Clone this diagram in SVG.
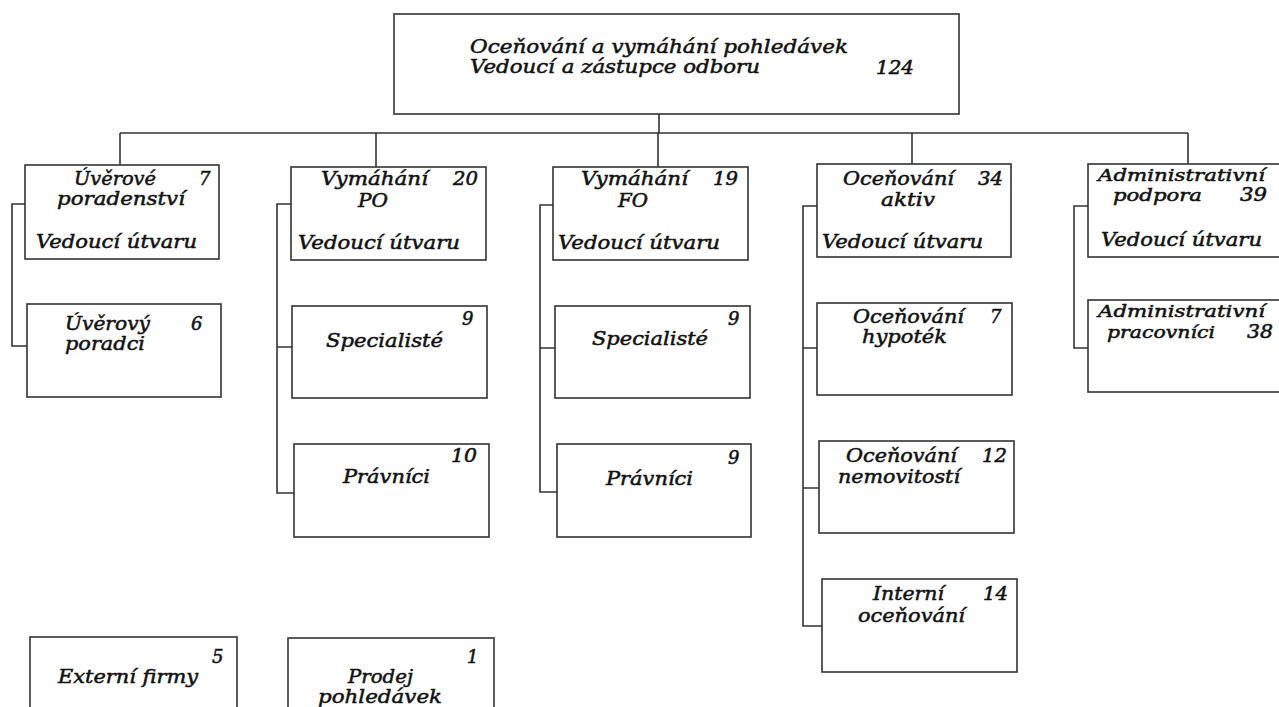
<svg xmlns="http://www.w3.org/2000/svg" width="1279" height="707" viewBox="0 0 1279 707">
<style>
.b{fill:#fff;stroke:#333;stroke-width:1.6}
.c{fill:none;stroke:#333;stroke-width:1.6}
text{font-family:"DejaVu Serif","Liberation Serif",serif;font-style:italic;font-size:18px;fill:#111;stroke:#111;stroke-width:0.5}
.s{font-size:17px}
</style>
<rect width="1279" height="707" fill="#fff"/>
<g id="connectors">
<path class="c" d="M659 114V133M120 133H1188M120 133V165M376 133V167M658 133V167M912 133V164M1188 133V164"/>
<path class="c" d="M25 204H12V346H27"/>
<path class="c" d="M291 204H277V493H294M277 347H292"/>
<path class="c" d="M553 205H540V492H557M540 348H555"/>
<path class="c" d="M817 206H803V626H822M803 348H817M803 488H819"/>
<path class="c" d="M1088 206H1074V348H1088"/>
</g>
<g id="n-top">
<rect class="b" x="394" y="14" width="565" height="100"/>
<text x="470" y="53" textLength="378" lengthAdjust="spacingAndGlyphs">Oceňování a vymáhání pohledávek</text>
<text x="470" y="73" textLength="290" lengthAdjust="spacingAndGlyphs">Vedoucí a zástupce odboru</text>
<text x="876" y="74" textLength="38" lengthAdjust="spacingAndGlyphs">124</text>
</g>
<g id="n-uv">
<rect class="b" x="25" y="165" width="194" height="94"/>
<text x="74" y="185" textLength="82" lengthAdjust="spacingAndGlyphs">Úvěrové</text>
<text x="199" y="185">7</text>
<text x="57" y="205" textLength="128" lengthAdjust="spacingAndGlyphs">poradenství</text>
<text x="36" y="248" textLength="161" lengthAdjust="spacingAndGlyphs">Vedoucí útvaru</text>
</g>
<g id="n-uv-por">
<rect class="b" x="27" y="304" width="194" height="93"/>
<text x="65" y="330" textLength="85" lengthAdjust="spacingAndGlyphs">Úvěrový</text>
<text x="191" y="330">6</text>
<text x="65" y="350" textLength="80" lengthAdjust="spacingAndGlyphs">poradci</text>
</g>
<g id="n-po">
<rect class="b" x="291" y="167" width="195" height="93"/>
<text x="321" y="185" textLength="107" lengthAdjust="spacingAndGlyphs">Vymáhání</text>
<text x="453" y="185" textLength="25" lengthAdjust="spacingAndGlyphs">20</text>
<text x="358" y="207" textLength="30" lengthAdjust="spacingAndGlyphs">PO</text>
<text x="298" y="249" textLength="162" lengthAdjust="spacingAndGlyphs">Vedoucí útvaru</text>
</g>
<g id="n-po-spec">
<rect class="b" x="292" y="306" width="195" height="92"/>
<text x="462" y="325">9</text>
<text x="326" y="347" textLength="117" lengthAdjust="spacingAndGlyphs">Specialisté</text>
</g>
<g id="n-po-prav">
<rect class="b" x="294" y="444" width="195" height="93"/>
<text x="451" y="462" textLength="26" lengthAdjust="spacingAndGlyphs">10</text>
<text x="343" y="483" textLength="87" lengthAdjust="spacingAndGlyphs">Právníci</text>
</g>
<g id="n-fo">
<rect class="b" x="553" y="167" width="195" height="93"/>
<text x="581" y="185" textLength="107" lengthAdjust="spacingAndGlyphs">Vymáhání</text>
<text x="713" y="185" textLength="25" lengthAdjust="spacingAndGlyphs">19</text>
<text x="618" y="207" textLength="30" lengthAdjust="spacingAndGlyphs">FO</text>
<text x="558" y="249" textLength="162" lengthAdjust="spacingAndGlyphs">Vedoucí útvaru</text>
</g>
<g id="n-fo-spec">
<rect class="b" x="555" y="306" width="195" height="92"/>
<text x="728" y="325">9</text>
<text x="592" y="345" textLength="116" lengthAdjust="spacingAndGlyphs">Specialisté</text>
</g>
<g id="n-fo-prav">
<rect class="b" x="557" y="444" width="194" height="93"/>
<text x="728" y="464">9</text>
<text x="606" y="485" textLength="87" lengthAdjust="spacingAndGlyphs">Právníci</text>
</g>
<g id="n-oc">
<rect class="b" x="817" y="164" width="194" height="93"/>
<text x="843" y="185" textLength="111" lengthAdjust="spacingAndGlyphs">Oceňování</text>
<text x="978" y="185" textLength="25" lengthAdjust="spacingAndGlyphs">34</text>
<text x="881" y="206" textLength="54" lengthAdjust="spacingAndGlyphs">aktiv</text>
<text x="822" y="248" textLength="161" lengthAdjust="spacingAndGlyphs">Vedoucí útvaru</text>
</g>
<g id="n-oc-hyp">
<rect class="b" x="817" y="303" width="195" height="92"/>
<text x="853" y="323" textLength="111" lengthAdjust="spacingAndGlyphs">Oceňování</text>
<text x="990" y="323">7</text>
<text x="862" y="343" textLength="85" lengthAdjust="spacingAndGlyphs">hypoték</text>
</g>
<g id="n-oc-nem">
<rect class="b" x="819" y="441" width="195" height="92"/>
<text x="846" y="462" textLength="111" lengthAdjust="spacingAndGlyphs">Oceňování</text>
<text x="982" y="462" textLength="25" lengthAdjust="spacingAndGlyphs">12</text>
<text x="838" y="483" textLength="122" lengthAdjust="spacingAndGlyphs">nemovitostí</text>
</g>
<g id="n-oc-int">
<rect class="b" x="822" y="579" width="195" height="93"/>
<text x="873" y="600" textLength="71" lengthAdjust="spacingAndGlyphs">Interní</text>
<text x="983" y="600" textLength="25" lengthAdjust="spacingAndGlyphs">14</text>
<text x="858" y="622" textLength="107" lengthAdjust="spacingAndGlyphs">oceňování</text>
</g>
<g id="n-adm">
<rect class="b" x="1088" y="164" width="200" height="93"/>
<text class="s" x="1098" y="181" textLength="167" lengthAdjust="spacingAndGlyphs">Administrativní</text>
<text class="s" x="1113" y="201" textLength="89" lengthAdjust="spacingAndGlyphs">podpora</text>
<text x="1240" y="201" textLength="27" lengthAdjust="spacingAndGlyphs">39</text>
<text x="1101" y="246" textLength="161" lengthAdjust="spacingAndGlyphs">Vedoucí útvaru</text>
</g>
<g id="n-adm-prac">
<rect class="b" x="1088" y="300" width="200" height="92"/>
<text class="s" x="1098" y="317" textLength="167" lengthAdjust="spacingAndGlyphs">Administrativní</text>
<text class="s" x="1107" y="338" textLength="108" lengthAdjust="spacingAndGlyphs">pracovníci</text>
<text x="1247" y="338" textLength="26" lengthAdjust="spacingAndGlyphs">38</text>
</g>
<g id="n-ext">
<rect class="b" x="30" y="637" width="207" height="80"/>
<text x="212" y="663">5</text>
<text x="58" y="683" textLength="140" lengthAdjust="spacingAndGlyphs">Externí firmy</text>
</g>
<g id="n-prodej">
<rect class="b" x="288" y="638" width="206" height="80"/>
<text x="467" y="663">1</text>
<text x="348" y="683" textLength="65" lengthAdjust="spacingAndGlyphs">Prodej</text>
<text x="318" y="703" textLength="124" lengthAdjust="spacingAndGlyphs">pohledávek</text>
</g>
</svg>
